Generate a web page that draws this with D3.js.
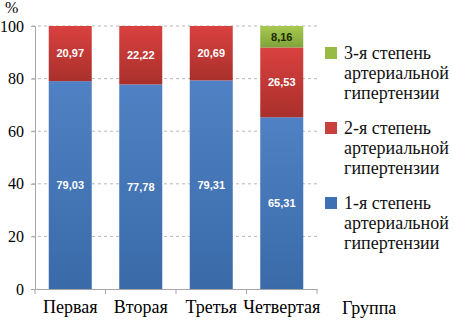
<!DOCTYPE html>
<html lang="ru">
<head>
<meta charset="utf-8">
<title>Степени гипертензии</title>
<script src="https://d3js.org/d3.v7.min.js"></script>
<style>
  body { margin: 0; background: #fff; }
</style>
</head>
<body>
<div id="chart"></div>
<script>
// Data
const groups = ["Первая", "Вторая", "Третья", "Четвертая"];
const grade1 = [79.03, 77.78, 79.31, 65.31];
const grade2 = [20.97, 22.22, 20.69, 26.53];
const grade3 = [0, 0, 0, 8.16];
const yTicks = [0, 20, 40, 60, 80, 100];
const seriesNames = [
  ["1-я степень", "артериальной", "гипертензии"],
  ["2-я степень", "артериальной", "гипертензии"],
  ["3-я степень", "артериальной", "гипертензии"]
];

const SERIF = "'Liberation Serif', 'DejaVu Serif', serif";
const W = 455, H = 322;
const margin = { top: 26, right: 138, bottom: 33, left: 35 };
const width = W - margin.left - margin.right;
const height = H - margin.top - margin.bottom;

const svg = d3.select("#chart").append("svg")
  .attr("width", W).attr("height", H)
  .attr("font-family", SERIF);

// gradients, Excel style
const defs = svg.append("defs");
const grads = [
  { id: "gBlue", c1: "#4f81c4", c2: "#3a6aa8" },
  { id: "gRed", c1: "#d9413f", c2: "#a9302c" },
  { id: "gGreen", c1: "#a7c94f", c2: "#7fa33a" }
];
grads.forEach(g => {
  const lg = defs.append("linearGradient").attr("id", g.id)
    .attr("x1", 0).attr("y1", 0).attr("x2", 0).attr("y2", 1);
  lg.append("stop").attr("offset", "0%").attr("stop-color", g.c1);
  lg.append("stop").attr("offset", "100%").attr("stop-color", g.c2);
});
const fills = ["url(#gBlue)", "url(#gRed)", "url(#gGreen)"];
const legendColors = ["#3e70b3", "#c7403d", "#98bb45"];
const labelColors = ["#fff", "#fff", "#1a2a00"];

const g = svg.append("g").attr("transform", `translate(${margin.left},${margin.top})`);

const x = d3.scaleBand().domain(groups).range([0, width]).paddingInner(0.39).paddingOuter(0.195);
const y = d3.scaleLinear().domain([0, 100]).range([height, 0]);

// gridlines
g.selectAll(".grid").data(yTicks.slice(1)).enter().append("line")
  .attr("x1", -3).attr("x2", width)
  .attr("y1", d => y(d)).attr("y2", d => y(d))
  .attr("stroke", "#b8b8b8").attr("stroke-dasharray", "3,3");

// stacked data
const rows = groups.map((grp, i) => ({ grp, s0: grade1[i], s1: grade2[i], s2: grade3[i] }));
const stack = d3.stack().keys(["s0", "s1", "s2"])(rows);

stack.forEach((layer, li) => {
  g.selectAll(".bar" + li).data(layer).enter().append("rect")
    .attr("x", d => x(d.data.grp))
    .attr("y", d => y(d[1]))
    .attr("width", x.bandwidth())
    .attr("height", d => y(d[0]) - y(d[1]))
    .attr("fill", fills[li]);
  g.selectAll(".lab" + li).data(layer.filter(d => d[1] - d[0] > 0)).enter().append("text")
    .attr("x", d => x(d.data.grp) + x.bandwidth() / 2)
    .attr("y", d => (y(d[0]) + y(d[1])) / 2)
    .attr("dy", "0.35em")
    .attr("text-anchor", "middle")
    .attr("font-family", "'Liberation Sans', Arial, sans-serif")
    .attr("font-size", 11)
    .attr("font-weight", "bold")
    .attr("fill", labelColors[li])
    .text(d => (d[1] - d[0]).toFixed(2).replace(".", ","));
});

// axes
const yAxis = g.append("g").call(d3.axisLeft(y).tickValues(yTicks).tickSize(4).tickPadding(7))
  .attr("font-family", SERIF).attr("font-size", 16);
yAxis.select(".domain").attr("stroke", "#a6a6a6");
yAxis.selectAll("line").attr("stroke", "#a6a6a6");
yAxis.selectAll("text").attr("fill", "#000");

const xAxis = g.append("g").attr("transform", `translate(0,${height})`)
  .call(d3.axisBottom(x).tickSize(0).tickPadding(11))
  .attr("font-family", SERIF).attr("font-size", 18);
xAxis.select(".domain").attr("stroke", "#a6a6a6");
xAxis.selectAll("text").attr("fill", "#000");
// category boundary ticks
const bounds = groups.map(d => x(d) - x.step() * x.paddingInner() / 2).concat([width]);
g.selectAll(".btick").data(bounds).enter().append("line")
  .attr("x1", d => d).attr("x2", d => d)
  .attr("y1", height).attr("y2", height + 5)
  .attr("stroke", "#a6a6a6");

// axis titles
svg.append("text").attr("x", 5).attr("y", 13).attr("font-size", 16).text("%");
svg.append("text").attr("x", 342).attr("y", H - 8).attr("font-size", 18).text("Группа");

// legend (top to bottom: 3, 2, 1)
const legend = svg.append("g").attr("transform", "translate(325,0)");
[2, 1, 0].forEach((si, k) => {
  const top = 45 + k * 75;
  legend.append("rect").attr("x", 0).attr("y", top + 2).attr("width", 12).attr("height", 12)
    .attr("fill", legendColors[si]);
  seriesNames[si].forEach((line, j) => {
    legend.append("text").attr("x", 19).attr("y", top + 14 + j * 20)
      .attr("font-size", 18).attr("fill", "#111").text(line);
  });
});
</script>
</body>
</html>
